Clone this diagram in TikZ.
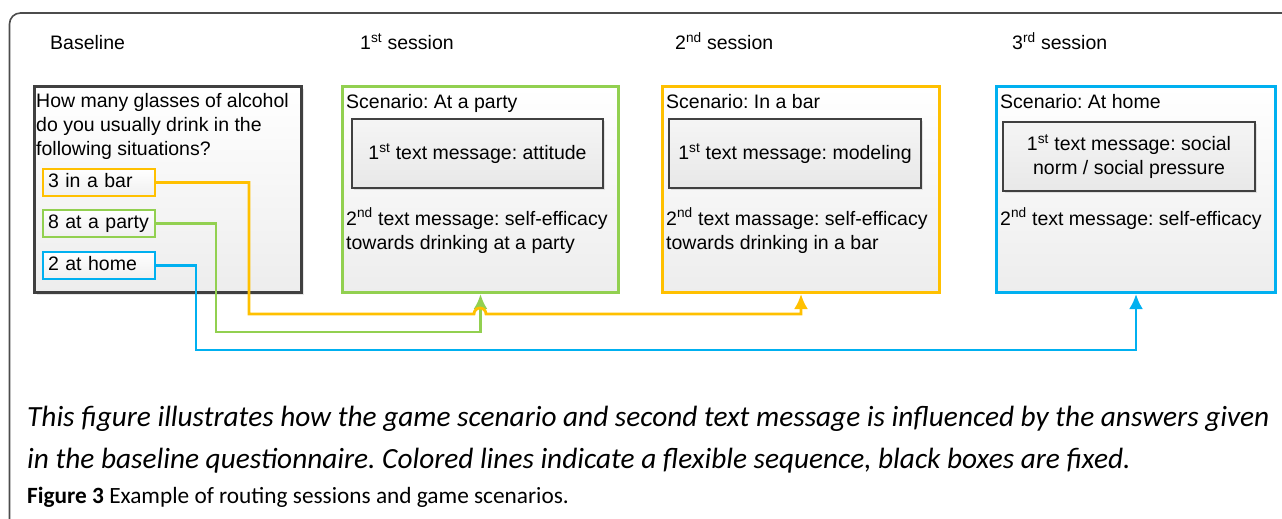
\documentclass[tikz,border=0pt]{standalone}
\usepackage{fontspec}
\setmainfont{Liberation Sans}
\newfontfamily\capfont{Carlito}
\usetikzlibrary{arrows.meta,shadows}
\frenchspacing

\definecolor{cbar}{HTML}{FFC000}
\definecolor{cparty}{HTML}{92D050}
\definecolor{chome}{HTML}{00B0F0}
\definecolor{cdark}{HTML}{404040}

\begin{document}
\begin{tikzpicture}[x=1pt, y=-1pt, font=\fontsize{19.5}{24}\selectfont,
  panel/.style={rectangle, line width=3pt, anchor=north west, inner sep=0pt, top color=white, bottom color=black!7},
  msgbox/.style={rectangle, draw=cdark, line width=2pt, align=center, top color=white!96!black, bottom color=black!9, drop shadow={opacity=0.2, shadow xshift=2pt, shadow yshift=-2pt}},
  opt/.style={rectangle, line width=2pt, minimum width=112pt, minimum height=27pt, text width=102pt, inner xsep=5pt, inner ysep=2pt, align=left, text height=14pt, text depth=4pt, top color=white, bottom color=black!6},
  txt/.style={anchor=base west, align=left, inner sep=0pt},
  link/.style={line width=2.8pt, -{Latex[length=15pt,width=14pt]}}]

\path [use as bounding box, clip] (0,0) rectangle (1282,519);

\draw [line width=1.6pt, black!70, rounded corners=11pt] (9.5,13) rectangle (1320,550);

\node (t0) at (50,50) [txt] {Baseline};
\node (t1) at (360,50) [txt] {1\textsuperscript{st} session};
\node (t2) at (675,50) [txt] {2\textsuperscript{nd} session};
\node (t3) at (1012,50) [txt] {3\textsuperscript{rd} session};

\node (b0) at (33,85) [panel, draw=cdark, minimum width=267pt, minimum height=206pt, drop shadow={opacity=0.2, shadow xshift=2pt, shadow yshift=-2pt}] {};
\node (s1) at (341,85) [panel, draw=cparty, minimum width=276pt, minimum height=206pt] {};
\node (s2) at (661,85) [panel, draw=cbar, minimum width=277pt, minimum height=206pt] {};
\node (s3) at (995,85) [panel, draw=chome, minimum width=279pt, minimum height=206pt] {};

\node (q0) at (36,155) [txt] {How many glasses of alcohol\\do you usually drink in the\\following situations?};

\node (o1) at (99,182.5) [opt, draw=cbar] {3 in a bar};
\node (o2) at (99,223.5) [opt, draw=cparty] {8 at a party};
\node (o3) at (99,265.5) [opt, draw=chome] {2 at home};

\node (c1) at (346,108) [txt] {Scenario: At a party};
\node (c2) at (666,108) [txt] {Scenario: In a bar};
\node (c3) at (1000,108) [txt] {Scenario: At home};

\node (m1) at (477.5,153.5) [msgbox, minimum width=251pt, minimum height=69pt] {1\textsuperscript{st} text message: attitude};
\node (m2) at (795,153.5) [msgbox, minimum width=252pt, minimum height=69pt] {1\textsuperscript{st} text message: modeling};
\node (m3) at (1129,156.5) [msgbox, minimum width=252pt, minimum height=69pt] {1\textsuperscript{st} text message: social\\norm / social pressure};

\node (d1) at (346,249) [txt] {2\textsuperscript{nd} text message: self-efficacy\\towards drinking at a party};
\node (d2) at (666,249) [txt] {2\textsuperscript{nd} text massage: self-efficacy\\towards drinking in a bar};
\node (d3) at (1000,225) [txt] {2\textsuperscript{nd} text message: self-efficacy};

\draw [link, cparty] (o2.east) -| (216,332) -| (s1.south);
\draw [link, cbar] (o1.east) -| (249,314) -- (474,314) arc [start angle=180, end angle=360, radius=6] -| (s2.south);
\draw [link, chome] (o3.east) -| (196,350) -| (s3.south);

\node (p1) at (27,468) [txt, font=\capfont\itshape\fontsize{29.3}{42}\selectfont] {This figure illustrates how the game scenario and second text message is influenced by the answers given\\in the baseline questionnaire. Colored lines indicate a flexible sequence, black boxes are fixed.};
\node (p2) at (27,503) [txt, font=\capfont\fontsize{23.3}{26}\selectfont] {\textbf{Figure 3} Example of routing sessions and game scenarios.};

\end{tikzpicture}
\end{document}
